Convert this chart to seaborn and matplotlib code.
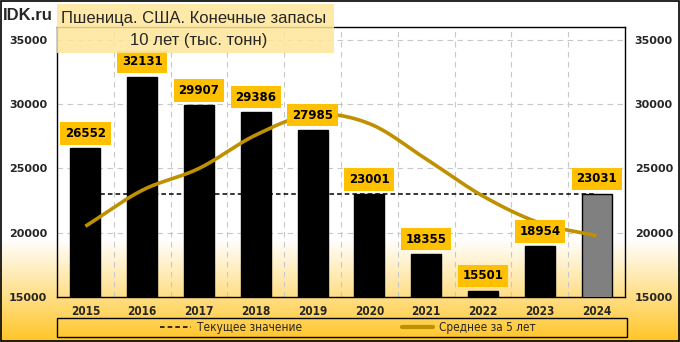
import numpy as np
import pandas as pd
import matplotlib
matplotlib.use("Agg")
import matplotlib.pyplot as plt
import seaborn as sns
from matplotlib.lines import Line2D

years = ["2015", "2016", "2017", "2018", "2019", "2020", "2021", "2022", "2023", "2024"]
stocks = [26552, 32131, 29907, 29386, 27985, 23001, 18355, 15501, 18954, 23031]
avg5 = [20500, 23300, 25000, 27600, 29192, 28482, 25727, 22846, 20759, 19768]
current_value = 23031
yticks = [15000, 20000, 25000, 30000, 35000]
title1 = "Пшеница. США. Конечные запасы"
title2 = "10 лет (тыс. тонн)"
legend_labels = ["Текущее значение", "Среднее за 5 лет"]

sns.set_theme(style="white")
plt.rcParams["font.family"] = ["DejaVu Sans"]

W, H = 680, 342
fig = plt.figure(figsize=(W / 100, H / 100), dpi=100)

# background gradient
bg = fig.add_axes([0, 0, 1, 1], zorder=-10)
n = 400
t = np.linspace(0, 1, n)  # 0 top -> 1 bottom
start = 0.70
f = np.clip((t - start) / (1 - start), 0, 1)
top = np.array([1.0, 1.0, 1.0])
bot = np.array([1.0, 0.77, 0.15])
cols = top[None, :] * (1 - f[:, None]) + bot[None, :] * f[:, None]
img = np.repeat(cols[:, None, :], 2, axis=1)
bg.imshow(img, aspect="auto", extent=[0, 1, 0, 1], origin="upper")
bg.set_xlim(0, 1); bg.set_ylim(0, 1)
bg.axis("off")
bg.add_patch(plt.Rectangle((0.0015, 0.003), 0.997, 0.994, fill=False, edgecolor="black",
                           lw=1.2, transform=bg.transAxes))
# legend frame
bg.add_patch(plt.Rectangle((57 / W, (H - 337) / H), (627 - 57) / W, 19 / H, fill=False,
                           edgecolor="black", lw=1, transform=bg.transAxes))

left, right = 57 / W, 625 / W
bottom, topy = (H - 297) / H, (H - 27) / H
ax = fig.add_axes([left, bottom, right - left, topy - bottom])
ax.patch.set_alpha(0)

df = pd.DataFrame({"year": years, "stocks": stocks})
palette = ["black"] * (len(years) - 1) + ["#808080"]
sns.barplot(data=df, x="year", y="stocks", hue="year", palette=palette, legend=False,
            width=0.53, edgecolor="black", linewidth=1, ax=ax, zorder=3)

ax.set_ylim(15000, 36000)
ax.set_xlim(-0.5, len(years) - 0.5)

# gridlines
for yv in yticks[1:]:
    ax.axhline(yv, color="#c8c8c8", lw=0.8, ls=(0, (5, 4)), zorder=1)
for xv in np.arange(0.5, len(years) - 0.5, 1):
    ax.axvline(xv, color="#c8c8c8", lw=0.8, ls=(0, (5, 4)), zorder=1)

# current value dashed line
xs = np.arange(len(years))
ax.plot([xs[0], xs[-1]], [current_value, current_value], color="black", lw=1.1,
        ls=(0, (3, 2)), zorder=2)

# smooth 5-year average (Catmull-Rom rendering)
def catmull(xp, yp, steps=20):
    P = np.column_stack([xp, yp]).astype(float)
    P = np.vstack([P[0] - (P[1] - P[0]), P, P[-1] + (P[-1] - P[-2])])
    out = []
    for i in range(1, len(P) - 2):
        p0, p1, p2, p3 = P[i - 1], P[i], P[i + 1], P[i + 2]
        for s in np.linspace(0, 1, steps, endpoint=False):
            s2, s3 = s * s, s * s * s
            pt = 0.5 * ((2 * p1) + (-p0 + p2) * s + (2 * p0 - 5 * p1 + 4 * p2 - p3) * s2
                        + (-p0 + 3 * p1 - 3 * p2 + p3) * s3)
            out.append(pt)
    out.append(P[-2])
    out = np.array(out)
    return out[:, 0], out[:, 1]

cx, cy = catmull(xs, avg5)
ax.plot(cx, cy, color="#BF9000", lw=2.6, zorder=5, solid_capstyle="butt")

# value labels
for i, v in enumerate(stocks):
    ax.text(i, v + 1150, f"{v}", ha="center", va="center", fontsize=8.5, fontweight="bold",
            color="black", zorder=6,
            bbox=dict(boxstyle="square,pad=0.4", facecolor="#FFC000", edgecolor="none"))

# axes styling
for sp in ax.spines.values():
    sp.set_color("black"); sp.set_linewidth(1)
ax.set_yticks(yticks)
ax.set_yticklabels([str(v) for v in yticks], fontsize=8, fontweight="bold")
ax.tick_params(axis="y", length=0, pad=7, labelleft=True, labelright=True)
ax.tick_params(axis="x", length=0, pad=6)
for lab in ax.get_xticklabels():
    lab.set_fontfamily(["DejaVu Sans"])
    lab.set_fontstretch("condensed")
    lab.set_fontweight("bold")
    lab.set_fontsize(8.5)
ax.set_xlabel("")
ax.set_ylabel("")

# title box
fig.patches.append(plt.Rectangle((57 / W, (H - 53) / H), (334 - 57) / W, 49 / H,
                                 transform=fig.transFigure, facecolor="#FFE699",
                                 edgecolor="none", alpha=0.85, zorder=20))
fig.text(194 / W, (H - 18) / H, title1, ha="center", va="center", fontsize=12,
         family=["Liberation Sans"], zorder=21)
fig.text(199 / W, (H - 41) / H, title2, ha="center", va="center", fontsize=12,
         family=["Liberation Sans"], zorder=21)
fig.text(3 / W, (H - 15) / H, "IDK.ru", ha="left", va="center", fontsize=12,
         fontweight="bold", family=["Liberation Sans"], zorder=21)

# legend
handles = [Line2D([0], [0], color="black", lw=1.1, ls=(0, (3, 2))),
           Line2D([0], [0], color="#BF9000", lw=3)]
leg = fig.legend(handles, legend_labels, loc="center", ncol=2,
                 bbox_to_anchor=(348 / W, (H - 327.5) / H),
                 frameon=False,
                 prop={"family": ["DejaVu Sans"], "stretch": "condensed", "size": 8.5},
                 handlelength=2.6, borderpad=0.1, columnspacing=8.5, handletextpad=0.5)

fig.savefig("out.png", dpi=100)
